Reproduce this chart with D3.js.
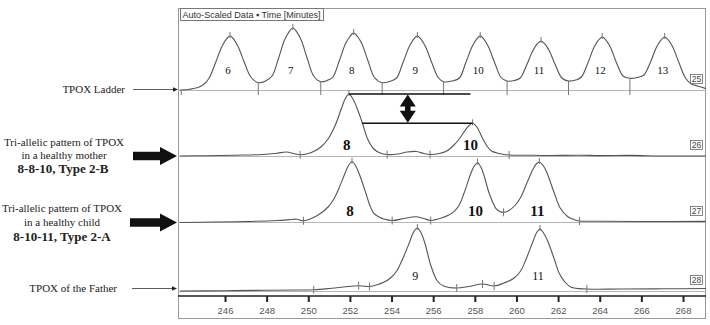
<!DOCTYPE html>
<html>
<head>
<meta charset="utf-8">
<script src="https://cdn.jsdelivr.net/npm/d3@7"></script>
<style>
  body { margin: 0; background: #fff; }
  svg { display: block; }
</style>
</head>
<body>
<svg id="chart" width="710" height="325"></svg>
<script>
// size axis (bp)
const xTicks = [246, 248, 250, 252, 254, 256, 258, 260, 262, 264, 266, 268];

// TPOX allelic ladder
const ladderAlleles = ["6", "7", "8", "9", "10", "11", "12", "13"];
const ladderPeaks = [246.24, 249.26, 252.18, 255.24, 258.26, 261.18, 264.12, 267.12];
const ladderMarks = [243.9, 247.6, 250.6, 253.55, 256.5, 259.55, 262.5, 265.45];
const ladderTrace = [
  [243.83, 0], [244.3, 0.8], [244.7, 2.5], [245.0, 6], [245.24, 12], [245.54, 27], [245.84, 43], [246.04, 50.2],
  [246.24, 54], [246.44, 50.2], [246.64, 43], [246.94, 27], [247.24, 13], [247.6, 7.3], [247.95, 9],
  [248.26, 14], [248.56, 31], [248.86, 50], [249.06, 57.7], [249.26, 62], [249.46, 57.7], [249.66, 50], [249.96, 31], [250.26, 14],
  [250.6, 8.3], [250.9, 9.5], [251.18, 13], [251.48, 28.5], [251.78, 46], [251.98, 53], [252.18, 57], [252.38, 53], [252.58, 46],
  [252.88, 28.5], [253.18, 12.5], [253.55, 7.3], [253.9, 8.5], [254.24, 12], [254.54, 27], [254.84, 43], [255.04, 50.2],
  [255.24, 54], [255.44, 50.2], [255.64, 43], [255.94, 27], [256.24, 12.5], [256.5, 8.3], [256.9, 9], [257.26, 12],
  [257.56, 27], [257.86, 43], [258.06, 50.2], [258.26, 54], [258.46, 50.2], [258.66, 43], [258.96, 27], [259.26, 12.5], [259.55, 9],
  [259.9, 9.5], [260.18, 12], [260.48, 24.5], [260.78, 39], [260.98, 45.6], [261.18, 49], [261.38, 45.6], [261.58, 39], [261.88, 24.5],
  [262.18, 12], [262.5, 9], [262.85, 10], [263.12, 13], [263.42, 26.5], [263.72, 42.4], [263.92, 49.3], [264.12, 53],
  [264.32, 49.3], [264.52, 42.4], [264.82, 26.5], [265.12, 14], [265.45, 11.7], [265.8, 12.5], [266.12, 15],
  [266.42, 27], [266.72, 42.4], [266.92, 49.3], [267.12, 53], [267.32, 49.3], [267.52, 42.4], [267.82, 26.5], [268.12, 12],
  [268.4, 6], [268.7, 4], [269.15, 1]
];

// mother: 8-8-10, Type 2-B
const motherAlleles = ["8", "10"];
const motherPeaks = [251.95, 257.89];
const motherMarks = [249.61, 253.79, 255.85, 259.65];
const motherTrace = [
  [243.83, 0], [245, 0.3], [246.5, 0.8], [247.8, 1.5], [248.5, 2.8], [248.95, 4], [249.3, 2.5],
  [249.61, 1.2], [250.0, 2.5], [250.3, 5], [250.6, 9], [250.95, 17], [251.3, 31], [251.6, 48], [251.78, 57.5],
  [251.95, 62], [252.12, 58], [252.3, 50], [252.6, 33], [252.85, 17], [253.15, 7], [253.45, 3], [253.8, 1.5],
  [254.3, 2], [254.75, 4], [255.2, 4.5], [255.55, 2.5], [255.85, 1.5], [256.3, 2.5], [256.65, 5],
  [257.0, 11], [257.25, 17], [257.48, 24], [257.7, 30], [257.89, 32.7], [258.1, 29], [258.37, 17.7],
  [258.6, 9.5], [258.8, 5], [259.17, 2.5], [259.65, 1], [260.5, 0.8], [261.5, 0.5], [263, 0.8],
  [264, 0.4], [265.5, 0.6], [267, 0], [269.15, 0]
];

// child: 8-10-11, Type 2-A
const childAlleles = ["8", "10", "11"];
const childPeaks = [252.1, 258.13, 261.1];
const childMarks = [249.77, 254.03, 255.88, 259.38, 263.03];
const childTrace = [
  [243.83, -0.5], [245.5, 0], [247, 0.5], [248.5, 1.5], [249.2, 2.5], [249.45, 2.8], [249.77, 1.2],
  [250.2, 4], [250.58, 8.5], [250.95, 15], [251.2, 22], [251.46, 33], [251.75, 48], [251.92, 56], [252.1, 60.3],
  [252.28, 56], [252.45, 48], [252.75, 30], [252.95, 17], [253.15, 8.7], [253.4, 5], [253.63, 3], [254.03, 1.5],
  [254.6, 3.5], [255.16, 5.3], [255.55, 3.5], [255.88, 1.5], [256.4, 4], [256.75, 7], [257.0, 10.3],
  [257.25, 17], [257.48, 28.7], [257.8, 48], [257.96, 55.5], [258.13, 59.3], [258.3, 54.5], [258.45, 46], [258.69, 28.7],
  [259.01, 13.7], [259.2, 10.5], [259.38, 9.7], [259.6, 11], [259.95, 17], [260.22, 25.3],
  [260.5, 39], [260.8, 53], [260.95, 58], [261.1, 60], [261.28, 56.5], [261.45, 50], [261.82, 28.7], [262.1, 14], [262.47, 5.3],
  [262.75, 2.5], [263.03, 1], [264, 0.8], [266, 0.5], [269.15, 0.6]
];

// father
const fatherAlleles = ["9", "11"];
const fatherPeaks = [255.24, 261.13];
const fatherMarks = [250.26, 252.42, 252.94, 257.13, 258.37, 258.93, 263.38];
const fatherTrace = [
  [243.83, 0], [246, 0.3], [248, 0.8], [249.5, 1], [250.26, 1.3], [251.0, 2.5], [251.7, 4],
  [252.42, 5.3], [252.7, 4.8], [252.94, 4.5], [253.31, 6.3], [253.65, 9], [253.95, 13], [254.25, 20],
  [254.52, 31.5], [254.85, 48], [255.05, 58.5], [255.24, 63], [255.42, 58], [255.6, 48], [255.88, 26], [256.2, 10], [256.5, 5],
  [257.13, 3], [257.7, 4.5], [258.37, 7], [258.93, 5], [259.4, 8], [259.89, 13], [260.2, 20],
  [260.46, 31.7], [260.8, 50], [260.96, 58], [261.13, 62], [261.3, 58], [261.5, 50], [261.82, 31.7], [262.05, 18], [262.3, 9.7],
  [262.63, 3.7], [263.38, 2], [265, 2], [267, 2.2], [269.15, 2.5]
];

const svg = d3.select("#chart");
const frame = { left: 178, right: 706, top: 8, bottom: 318 };

const x = d3.scaleLinear().domain([246, 268]).range([225, 683]);
x.domain([x.invert(frame.left), x.invert(frame.right)]).range([frame.left, frame.right]);

// value of a trace at a given size (linear between read points)
const bis = d3.bisector(d => d[0]).left;
function valueAt(trace, bp) {
  const i = Math.max(1, Math.min(trace.length - 1, bis(trace, bp)));
  const a = trace[i - 1], b = trace[i];
  const t = (bp - a[0]) / (b[0] - a[0]);
  return a[1] + t * (b[1] - a[1]);
}

svg.append("clipPath").attr("id", "clip")
  .append("rect")
  .attr("x", frame.left).attr("y", frame.top)
  .attr("width", frame.right - frame.left).attr("height", frame.bottom - frame.top);

// outer frame
svg.append("rect")
  .attr("x", frame.left + 0.5).attr("y", frame.top + 0.5)
  .attr("width", frame.right - frame.left - 1).attr("height", frame.bottom - frame.top)
  .attr("fill", "none").attr("stroke", "#999").attr("stroke-width", 1);

svg.append("rect")
  .attr("x", 180.5).attr("y", 8.5).attr("width", 143).attr("height", 12)
  .attr("fill", "#fff").attr("stroke", "#777");
svg.append("text")
  .attr("x", 182.5).attr("y", 17.8)
  .attr("font-family", "Liberation Sans, Arial, sans-serif").attr("font-size", 9.5)
  .attr("textLength", 138).attr("lengthAdjust", "spacingAndGlyphs")
  .attr("fill", "#333")
  .text("Auto-Scaled Data \u25AA Time [Minutes]");

const panels = [
  { trace: ladderTrace, base: 90, marks: ladderMarks, peaks: ladderPeaks, alleles: ladderAlleles,
    labelH: 20, font: 11, weight: "normal", num: "25", ladder: true },
  { trace: motherTrace, base: 156, marks: motherMarks, peaks: motherPeaks, alleles: motherAlleles,
    labelH: 11, font: 15, weight: "bold", num: "26" },
  { trace: childTrace, base: 222, marks: childMarks, peaks: childPeaks, alleles: childAlleles,
    labelH: 11, font: 15, weight: "bold", num: "27" },
  { trace: fatherTrace, base: 291, marks: fatherMarks, peaks: fatherPeaks, alleles: fatherAlleles,
    labelH: 15, font: 12, weight: "normal", num: "28" }
];

const plot = svg.append("g").attr("clip-path", "url(#clip)");

panels.forEach(p => {
  p.y = d3.scaleLinear().domain([0, 70]).range([p.base, p.base - 70]);
  const g = plot.append("g");

  g.append("line")
    .attr("x1", frame.left).attr("x2", frame.right)
    .attr("y1", p.base + 0.5).attr("y2", p.base + 0.5)
    .attr("stroke", "#b5b5b5").attr("stroke-width", 1);

  const line = d3.line()
    .x(d => x(d[0]))
    .y(d => p.y(d[1]))
    .curve(d3.curveCatmullRom.alpha(0.5));

  g.append("path")
    .datum(p.trace)
    .attr("d", line)
    .attr("fill", "none")
    .attr("stroke", "#555")
    .attr("stroke-width", 1.1);

  // bin / boundary marks
  g.selectAll(".mark")
    .data(p.marks)
    .enter().append("line")
    .attr("x1", d => x(d)).attr("x2", d => x(d))
    .attr("y1", d => p.y(valueAt(p.trace, d)) - (p.ladder ? 0 : 4))
    .attr("y2", d => p.ladder ? p.base + 5 : p.y(valueAt(p.trace, d)) + 4)
    .attr("stroke", "#777").attr("stroke-width", 1);

  // peak top marks
  g.selectAll(".peakmark")
    .data(p.peaks)
    .enter().append("line")
    .attr("x1", d => x(d)).attr("x2", d => x(d))
    .attr("y1", d => p.y(valueAt(p.trace, d)) - 4)
    .attr("y2", d => p.y(valueAt(p.trace, d)) + 2)
    .attr("stroke", "#777").attr("stroke-width", 1);

  g.selectAll(".allele")
    .data(p.alleles)
    .enter().append("text")
    .attr("x", (d, i) => x(p.peaks[i]) - 2)
    .attr("y", p.y(p.labelH))
    .attr("dy", "0.35em")
    .attr("text-anchor", "middle")
    .attr("font-family", "Liberation Serif, Times New Roman, serif")
    .attr("font-size", p.font)
    .attr("font-weight", p.weight)
    .attr("fill", "#111")
    .text(d => d);

  svg.append("rect")
    .attr("x", 690.5).attr("y", p.base - 15.5).attr("width", 12).attr("height", 9)
    .attr("fill", "#fff").attr("stroke", "#666").attr("stroke-width", 0.8);
  svg.append("text")
    .attr("x", 696.5).attr("y", p.base - 7.8)
    .attr("text-anchor", "middle")
    .attr("font-family", "Liberation Sans, Arial, sans-serif").attr("font-size", 8.5)
    .attr("fill", "#444")
    .text(p.num);
});

// peak height comparison in the mother
const mp = panels[1];
const h8 = valueAt(motherTrace, motherPeaks[0]);
const h10 = valueAt(motherTrace, motherPeaks[1]);
svg.append("line")
  .attr("x1", x(motherPeaks[0])).attr("x2", x(motherPeaks[1]) - 2)
  .attr("y1", mp.y(h8)).attr("y2", mp.y(h8))
  .attr("stroke", "#111").attr("stroke-width", 1.5);
svg.append("line")
  .attr("x1", x(252.58)).attr("x2", x(motherPeaks[1]))
  .attr("y1", mp.y(h10)).attr("y2", mp.y(h10))
  .attr("stroke", "#111").attr("stroke-width", 1.5);
{
  const cx = x(254.78), yt = mp.y(h8) + 0.5, yb = mp.y(h10) - 0.5;
  const hw = 8, hl = 12, sw = 2.8;
  const pts = [
    [cx, yt], [cx + hw, yt + hl], [cx + sw, yt + hl], [cx + sw, yb - hl], [cx + hw, yb - hl],
    [cx, yb], [cx - hw, yb - hl], [cx - sw, yb - hl], [cx - sw, yt + hl], [cx - hw, yt + hl]
  ];
  svg.append("polygon").attr("points", pts.map(d => d.join(",")).join(" ")).attr("fill", "#111");
}

// size axis
const axisY = 296;
svg.append("line")
  .attr("x1", frame.left).attr("x2", frame.right)
  .attr("y1", axisY).attr("y2", axisY)
  .attr("stroke", "#222").attr("stroke-width", 1.5);
const axis = svg.append("g")
  .attr("transform", `translate(0,${axisY})`)
  .call(d3.axisBottom(x).tickValues(xTicks).tickSize(6).tickPadding(5).tickFormat(d3.format("d")));
axis.select(".domain").remove();
axis.selectAll(".tick line").attr("stroke", "#222").attr("stroke-width", 2);
axis.selectAll(".tick text")
  .attr("font-family", "Liberation Sans, Arial, sans-serif")
  .attr("font-size", 9.5)
  .attr("fill", "#555");

// left annotations
const serif = "Liberation Serif, Times New Roman, serif";
function thinArrow(y, x0, x1) {
  svg.append("line").attr("x1", x0).attr("x2", x1 - 4).attr("y1", y).attr("y2", y)
    .attr("stroke", "#333").attr("stroke-width", 0.8);
  svg.append("polygon")
    .attr("points", `${x1},${y} ${x1 - 5},${y - 2.2} ${x1 - 5},${y + 2.2}`)
    .attr("fill", "#222");
}
function thickArrow(y, x0, x1) {
  const hl = 17, hh = 9, sh = 4.2;
  svg.append("polygon")
    .attr("points", [
      [x0, y - sh], [x1 - hl, y - sh], [x1 - hl, y - hh], [x1, y],
      [x1 - hl, y + hh], [x1 - hl, y + sh], [x0, y + sh]
    ].map(d => d.join(",")).join(" "))
    .attr("fill", "#111");
}
function label(txt, xx, yy, opts = {}) {
  svg.append("text")
    .attr("x", xx).attr("y", yy).attr("dy", "0.35em")
    .attr("text-anchor", opts.anchor || "middle")
    .attr("font-family", serif)
    .attr("font-size", opts.size || 11)
    .attr("font-weight", opts.weight || "normal")
    .attr("fill", "#222")
    .text(txt);
}

label("TPOX Ladder", 125, 89.5, { anchor: "end" });
thinArrow(89.5, 133, 178);

label("Tri-allelic pattern of TPOX", 64, 142);
label("in a healthy mother", 64, 155);
label("8-8-10, Type 2-B", 63, 168.5, { size: 13, weight: "bold" });
thickArrow(156, 133, 177);

label("Tri-allelic pattern of TPOX", 62, 208.5);
label("in a healthy child", 62, 222);
label("8-10-11, Type 2-A", 62, 236.5, { size: 13, weight: "bold" });
thickArrow(222.5, 130, 177);

label("TPOX of the Father", 117, 288.5, { anchor: "end" });
thinArrow(288.5, 132, 177);
</script>
</body>
</html>
